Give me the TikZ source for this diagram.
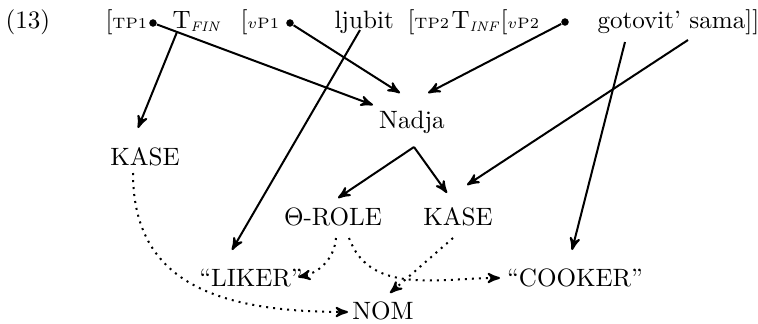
\documentclass[tikz,border=0pt]{standalone}
\usetikzlibrary{calc,arrows}
\tikzset{
>=stealth',
  word/.style={anchor=base west, inner sep=0pt},
  feat/.style={inner sep=2pt},
  knot/.style={circle, fill=black, inner sep=0pt, minimum size=3pt},
  line/.style={draw, thick, ->},
  agree/.style={draw, thick, dotted, ->},
}
\newcommand{\phr}[1]{{\fontsize{6}{7}\selectfont #1}}
\newcommand{\tsub}[1]{\textsubscript{\fontsize{5.5}{6}\selectfont\itshape #1}}

\begin{document}
\begin{tikzpicture}[x=0.014cm, y=-0.014cm]
  \useasboundingbox (0,0) rectangle (758,323);
  % the sentence
  \node[word] (ex) at (5,28) {(13)};
  \node[word] (tp1) at (105,28) {[\phr{TP1}};
  \node[knot] (d1) at (153,23) {};
  \node[word] (tfin) at (172,28) {T\tsub{FIN}};
  \node[word] (vp1) at (240,28) {[\phr{$v$P1}};
  \node[knot] (d2) at (290,23) {};
  \node[word] (ljubit) at (334,28) {ljubit};
  \node[word] (tp2) at (407,28) {[\phr{TP2}};
  \node[word] (tinf) at (451,28) {T\tsub{INF}};
  \node[word] (vp2) at (500,28) {[\phr{$v$P2}};
  \node[knot] (d3) at (565,22) {};
  \node[word] (gs) at (597,28) {gotovit' sama]]};
  % the features
  \node[feat] (nadja) at (412,122) {Nadja};
  \node[feat] (kaseA) at (145,157) {KASE};
  \node[feat] (theta) at (333,217) {$\Theta$-ROLE};
  \node[feat] (kaseB) at (458,217) {KASE};
  \node[feat] (liker) at (251,278) {``LIKER''};
  \node[feat] (cooker) at (575,278) {``COOKER''};
  \node[feat] (nom) at (383,311) {NOM};
  %% No. 1 -- solid links
  \draw[line] (d1) -- ($(nadja)+(-39,-17)$);
  \draw[line] ($(tfin.base west)+(5,4)$) -- ($(kaseA)+(-7,-29)$);
  \draw[line] (d2) -- ($(nadja)+(-12,-29)$);
  \draw[line] ($(ljubit.base west)+(26,2)$) -- ($(liker)+(-19,-28)$);
  \draw[line] (d3) -- ($(nadja)+(16,-29)$);
  \draw[line] ($(gs.base west)+(28,14)$) -- ($(cooker)+(-3,-28)$);
  \draw[line] ($(gs.base west)+(91,12)$) -- ($(kaseB)+(9,-32)$);
  \draw[line] ($(nadja)+(2,25)$) -- ($(theta)+(5,-19)$);
  \draw[line] ($(nadja)+(2,25)$) -- ($(kaseB)+(-11,-24)$);
  %% No. 2 -- dotted links
  \draw[agree] ($(kaseA)+(-12,16)$) .. controls +(0,110) and +(-130,0) .. ($(nom)+(-35,1)$);
  \draw[agree] ($(theta)+(3,21)$) to[out=-95,in=10] ($(liker)+(47,-1)$);
  \draw[agree] ($(theta)+(16,21)$) to[out=-70,in=180] ($(cooker)+(-75,0)$);
  \draw[agree] ($(kaseB)+(-5,21)$) -- ($(nom)+(7,-18)$);
\end{tikzpicture}
\end{document}
